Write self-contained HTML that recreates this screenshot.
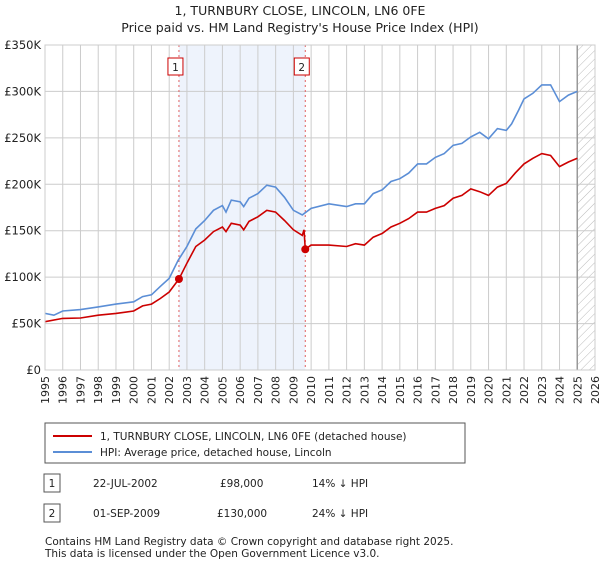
<!DOCTYPE html>
<html><head><meta charset="utf-8"><style>
body{margin:0;background:#fff;font-family:"Liberation Sans","DejaVu Sans",sans-serif;}
svg text{font-family:"DejaVu Sans","Liberation Sans",sans-serif;}
</style></head><body>
<svg id="c" width="600" height="560" xmlns="http://www.w3.org/2000/svg">
<text x="300" y="15" text-anchor="middle" font-size="12.5" fill="#222">1, TURNBURY CLOSE, LINCOLN, LN6 0FE</text>
<text x="300" y="32" text-anchor="middle" font-size="12.5" fill="#222">Price paid vs. HM Land Registry's House Price Index (HPI)</text>
<g id="plot"></g>
<g>
<rect x="45" y="423" width="420" height="40" fill="#fff" stroke="#555"/>
<line x1="53" y1="436" x2="92" y2="436" stroke="#cc0000" stroke-width="2"/>
<text x="100" y="440" font-size="10.5" fill="#222">1, TURNBURY CLOSE, LINCOLN, LN6 0FE (detached house)</text>
<line x1="53" y1="452" x2="92" y2="452" stroke="#5b8ed6" stroke-width="2"/>
<text x="100" y="456" font-size="10.5" fill="#222">HPI: Average price, detached house, Lincoln</text>
</g>
<g font-size="10.5" fill="#222">
<rect x="44" y="474" width="16" height="18" fill="#fff" stroke="#555"/><text x="52" y="487" text-anchor="middle">1</text>
<text x="93" y="487">22-JUL-2002</text><text x="220" y="487">£98,000</text><text x="312" y="487">14% ↓ HPI</text>
<rect x="44" y="504" width="16" height="18" fill="#fff" stroke="#555"/><text x="52" y="517" text-anchor="middle">2</text>
<text x="93" y="517">01-SEP-2009</text><text x="217" y="517">£130,000</text><text x="312" y="517">24% ↓ HPI</text>
</g>
<text x="45" y="545" font-size="10.5" fill="#222">Contains HM Land Registry data © Crown copyright and database right 2025.</text>
<text x="45" y="557" font-size="10.5" fill="#222">This data is licensed under the Open Government Licence v3.0.</text>
</svg>
<script>
const years=[1995,1996,1997,1998,1999,2000,2001,2002,2003,2004,2005,2006,2007,2008,2009,2010,2011,2012,2013,2014,2015,2016,2017,2018,2019,2020,2021,2022,2023,2024,2025,2026];
const yTicks=[0,50,100,150,200,250,300,350];
const hpiDates=[1995,1995.5,1996,1997,1998,1999,2000,2000.5,2001,2001.5,2002,2002.5,2003,2003.5,2004,2004.5,2005,2005.2,2005.5,2006,2006.2,2006.5,2007,2007.5,2008,2008.5,2009,2009.5,2010,2011,2012,2012.5,2013,2013.5,2014,2014.5,2015,2015.5,2016,2016.5,2017,2017.5,2018,2018.5,2019,2019.5,2020,2020.5,2021,2021.3,2021.7,2022,2022.5,2023,2023.5,2024,2024.5,2025];
const hpiValues=[61,59,63.5,65,68,71,73.5,79,81,90,98.6,118,133,152,161,172,177,170,183,181,176,185,190,199,197,186,172,167,174,179,176,179,179,190,194,203,206,212,222,222,229,233,242,244,251,256,249,260,258,265,280,292,298,307,307,289,296,300];
const ppDates=[1995,1996,1997,1998,1999,2000,2000.5,2001,2001.5,2002,2002.55,2003,2003.5,2004,2004.5,2005,2005.2,2005.5,2006,2006.2,2006.5,2007,2007.5,2008,2008.5,2009,2009.5,2009.6,2009.67,2010,2011,2012,2012.5,2013,2013.5,2014,2014.5,2015,2015.5,2016,2016.5,2017,2017.5,2018,2018.5,2019,2019.5,2020,2020.5,2021,2021.5,2022,2022.5,2023,2023.5,2024,2024.5,2025];
const ppValues=[52,55.6,56,59,61,63.5,69,71,77,84,98,115,133,140,149,154,149,158,156,151,160,165,172,170,161,151,145,151,130,134.5,134.5,133,136,134.5,143,147,154,158,163,170,170,174,177,185,188,195,192,188,197,201,212,222,228,233,231,219,224,228];
const saleDates=[2002.55,2009.67];
const saleValues=[98,130];
const saleLabels=["1","2"];
const L=45,R=595,T=45,B=370,x0=1995,x1=2026,yMax=350;
const X=v=>L+(v-x0)/(x1-x0)*(R-L);
const Y=v=>B-v/yMax*(B-T);
const g=document.getElementById('plot');
const NS='http://www.w3.org/2000/svg';
function mk(t,a,p){const e=document.createElementNS(NS,t);for(const k in a)e.setAttribute(k,a[k]);(p||g).appendChild(e);return e;}
// shaded band
let band=mk('rect',{x:X(saleDates[0]),y:T,width:X(saleDates[1])-X(saleDates[0]),height:B-T,fill:'#eef3fc'});


// hatch
const defs=mk('defs',{});
const pat=mk('pattern',{id:'h',width:6,height:6,patternUnits:'userSpaceOnUse',patternTransform:'rotate(45)'},defs);
mk('line',{x1:0,y1:0,x2:0,y2:6,stroke:'#bbb','stroke-width':1},pat);
let hz=mk('rect',{x:X(2025),y:T,width:R-X(2025),height:B-T,fill:'url(#h)'});


years.forEach(yr=>{
  let l=mk('line',{x1:X(yr),y1:T,x2:X(yr),y2:B,stroke:'#ccc','stroke-width':1});
  
  
  let t=mk('text',{x:0,y:0,'font-size':11,fill:'#222','text-anchor':'end',transform:`translate(${X(yr)+4},${B+6}) rotate(-90)`});
  t.textContent=yr;
  
  
});
yTicks.forEach(v=>{
  let l=mk('line',{x1:L,y1:Y(v),x2:R,y2:Y(v),stroke:'#ccc','stroke-width':1});
  
  
  let t=mk('text',{x:L-4,y:Y(v)+4,'font-size':11.5,fill:'#222','text-anchor':'end'});
  t.textContent=v===0?'£0':'£'+v+'K';
  
  
});
let vl=mk('line',{x1:X(2025),y1:T,x2:X(2025),y2:B,stroke:'#999','stroke-width':1.5});


saleDates.forEach((d,i)=>{
  let l=mk('line',{x1:X(d),y1:T,x2:X(d),y2:B,stroke:'#e06060','stroke-width':1,'stroke-dasharray':'2,3'});
  
  
});
function path(ds,vs,col,name){
  let p=mk('path',{d:ds.map((d,i)=>(i?'L':'M')+X(d).toFixed(1)+','+Y(vs[i]).toFixed(1)).join(''),fill:'none',stroke:col,'stroke-width':1.6});
  
  
}
path(hpiDates,hpiValues,'#5b8ed6','hpi-line');
path(ppDates,ppValues,'#cc0000','price-paid-line');
saleDates.forEach((d,i)=>{
  let c=mk('circle',{cx:X(d),cy:Y(saleValues[i]),r:4,fill:'#cc0000'});
  
  
  let r=mk('rect',{x:X(d)-11,y:58,width:15,height:17,fill:'#fff',stroke:'#cc0000'});
  
  
  let t=mk('text',{x:X(d)-3.5,y:71,'font-size':10.5,fill:'#222','text-anchor':'middle'});
  t.textContent=saleLabels[i];
  
  
});
mk('rect',{x:L,y:T,width:R-L,height:B-T,fill:'none',stroke:'#ccc'});
</script>
</body></html>
